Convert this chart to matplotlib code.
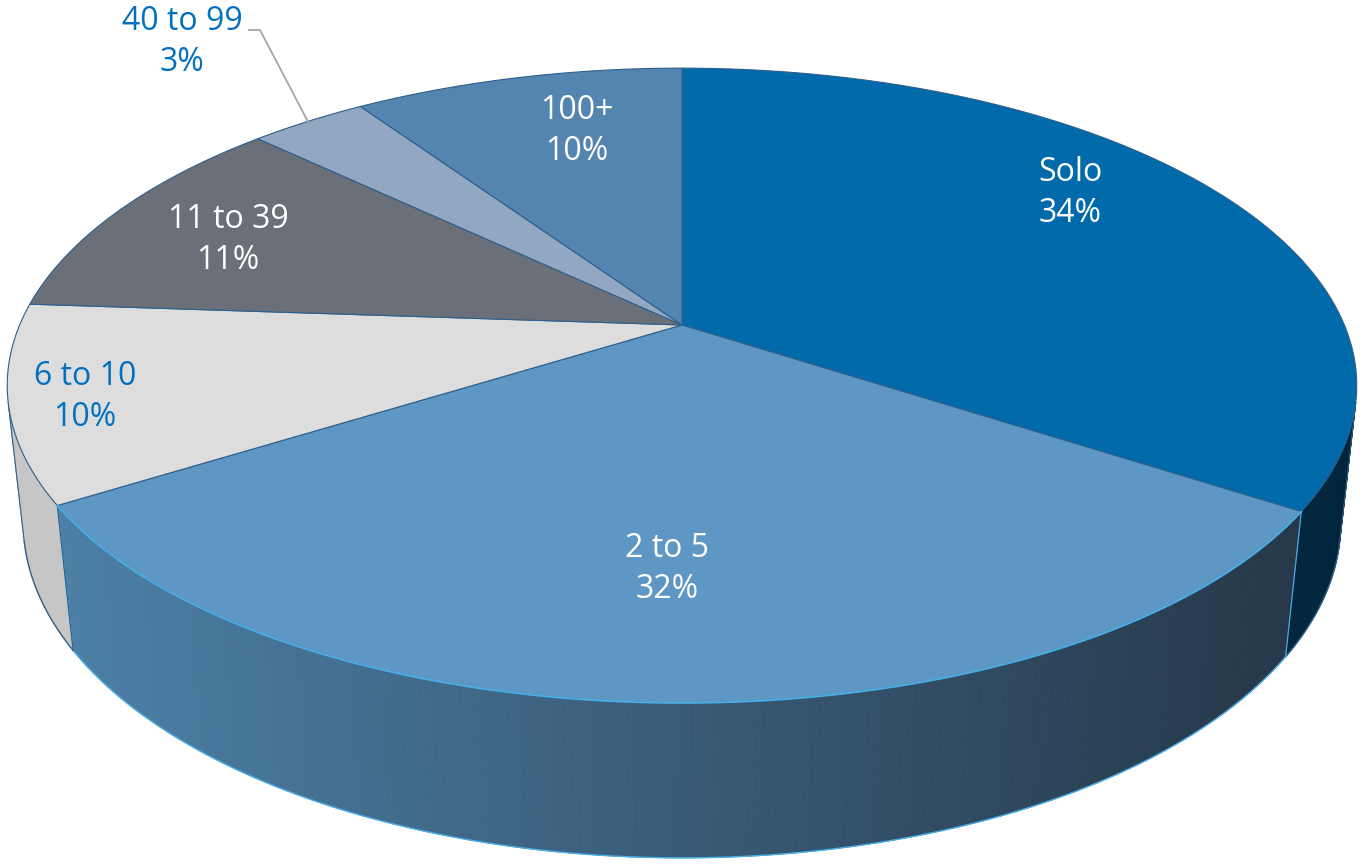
import numpy as np
import matplotlib.pyplot as plt
from matplotlib.patches import Polygon
from matplotlib.colors import to_rgb

# chart data
labels = ['Solo', '2 to 5', '6 to 10', '11 to 39', '40 to 99', '100+']
shares = [34.2, 31.9, 10.0, 11.0, 3.4, 9.5]

top_colors = ['#006AAB', '#5F97C4', '#DDDDDD', '#6B7078', '#91A7C2', '#5485B1']
wall_colors = [('#003050', '#00253C'), ('#4E83AA', '#233343'),
               ('#C6C6C6', '#BBBBBB'), ('#55595F', '#4A4E54'),
               ('#7A8DA5', '#6A7B90'), ('#44709A', '#3A6086')]
text_colors = ['white', 'white', '#0070C0', 'white', '#0070C0', 'white']
label_xy = [(1070, 193), (667, 569), (85, 397), (228, 240), (182, 42), (577, 131)]

# simple perspective camera for the 3-D disc (units: pie radius)
cx, cy = 682, 325
F = 3080.0
L = 4.65
alpha = np.radians(27.5)
h = 0.2345


def proj(theta, r=1.0, z=0.0):
    t = np.radians(theta)
    X = r * np.sin(t)
    Y = -r * np.cos(t)
    zc = L - Y * np.cos(alpha) - z * np.sin(alpha)
    yc = -Y * np.sin(alpha) + z * np.cos(alpha)
    return cx + F * X / zc, cy - F * yc / zc


fig = plt.figure(figsize=(13.63, 8.66), dpi=100)
ax = fig.add_axes([0, 0, 1, 1])
ax.set_xlim(0, 1363)
ax.set_ylim(866, 0)
ax.axis('off')

bounds = np.concatenate([[0], np.cumsum(shares)]) / sum(shares) * 360.0

# visible part of the side wall
D = L * np.cos(alpha)
sil = np.degrees(np.arccos(-1.0 / D))
vis0, vis1 = sil, 360.0 - sil

for i in range(len(shares)):
    a0 = max(bounds[i], vis0)
    a1 = min(bounds[i + 1], vis1)
    if a1 <= a0:
        continue
    cl = np.array(to_rgb(wall_colors[i][0]))
    cr = np.array(to_rgb(wall_colors[i][1]))
    steps = np.linspace(a0, a1, max(int((a1 - a0) * 2), 2))
    for s0, s1 in zip(steps[:-1], steps[1:]):
        p = [proj(s0), proj(s1), proj(s1, z=-h), proj(s0, z=-h)]
        xm = np.mean([q[0] for q in p])
        t = np.clip(xm / 1363.0, 0, 1)
        col = cl * (1 - t) + cr * t
        ax.add_patch(Polygon(p, closed=True, facecolor=col, edgecolor=col,
                             lw=0.6, zorder=1))
    line_col = '#4AAEE6' if i == 1 else '#2E5F8A'
    bot = [proj(s, z=-h) for s in steps]
    ax.plot([q[0] for q in bot], [q[1] for q in bot], color=line_col, lw=1.0, zorder=2)
    for a in (a0, a1):
        p0, p1 = proj(a), proj(a, z=-h)
        ax.plot([p0[0], p1[0]], [p0[1], p1[1]], color=line_col, lw=0.8, zorder=2)

# top faces
for i in range(len(shares)):
    arc = np.linspace(bounds[i], bounds[i + 1], 120)
    pts = [(cx, cy)] + [proj(a) for a in arc]
    ax.add_patch(Polygon(pts, closed=True, facecolor=top_colors[i],
                         edgecolor='#2E5F8A', lw=0.8, zorder=3))

# light rim on the front slice
arc = np.linspace(max(bounds[1], vis0), min(bounds[2], vis1), 200)
rim = [proj(a) for a in arc]
ax.plot([q[0] for q in rim], [q[1] for q in rim], color='#4AAEE6', lw=1.3, zorder=4)

# labels
for i, lab in enumerate(labels):
    x, y = label_xy[i]
    ax.text(x, y, f'{lab}\n{shares[i]:.0f}%', ha='center', va='center', fontsize=23,
            family='Open Sans', color=text_colors[i], linespacing=1.35, zorder=5)

# leader line for the small slice
lx, ly = label_xy[4]
mid = (bounds[4] + bounds[5]) / 2
px, py = proj(mid)
ax.plot([lx + 67, lx + 78, px], [ly - 12, ly - 12, py], color='#A6A6A6', lw=1.3, zorder=5)

fig.savefig('out.png', dpi=100)
